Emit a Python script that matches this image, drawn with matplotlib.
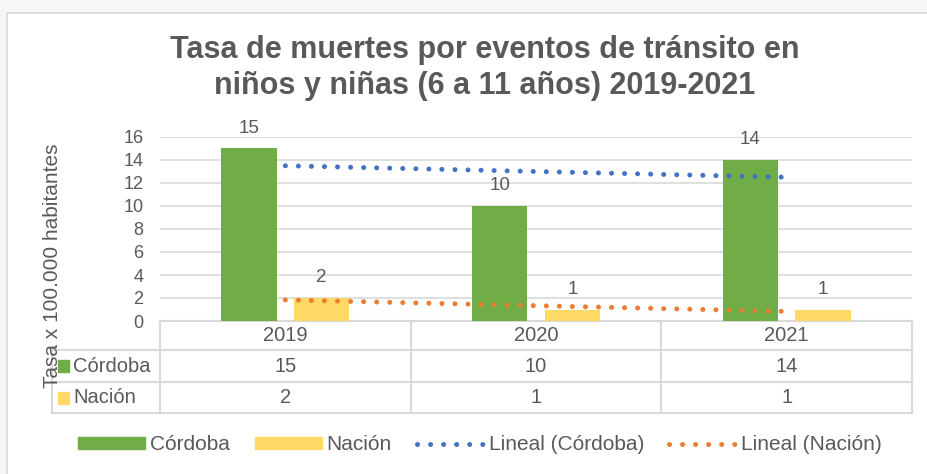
import matplotlib
matplotlib.use("Agg")
import matplotlib.pyplot as plt
import numpy as np
from matplotlib.patches import Patch, Rectangle
from matplotlib.lines import Line2D

plt.rcParams['font.family'] = ['Liberation Sans', 'DejaVu Sans']

# data
years = ['2019', '2020', '2021']
cordoba = [15, 10, 14]
nacion = [2, 1, 1]
series_names = ['Córdoba', 'Nación']

title = 'Tasa de muertes por eventos de tránsito en\nniños y niñas (6 a 11 años) 2019-2021'
ylabel = 'Tasa x 100.000 habitantes'

GREEN = '#70ad47'
YELLOW = '#ffd966'
BLUE = '#4472c4'
ORANGE = '#ed7d31'
TXT = '#595959'
GRID = '#d9d9d9'

W, H = 928, 474
fig = plt.figure(figsize=(W / 100, H / 100), dpi=100, facecolor='#f7f7f7')

# pixel overlay for frame, table and title
pix = fig.add_axes([0, 0, 1, 1], zorder=0)
pix.set_xlim(0, W)
pix.set_ylim(H, 0)
pix.axis('off')
pix.add_patch(Rectangle((7, 13), W, H, facecolor='white', edgecolor='#d9d9d9', lw=1.2))

# plot area
left, right, top, bottom = 160, 912, 137, 321
ax = fig.add_axes([left / W, 1 - bottom / H, (right - left) / W, (bottom - top) / H], zorder=2)
ax.patch.set_alpha(0)
x = np.arange(len(years))
bw, off = 0.22, 0.145
bars_c = ax.bar(x - off, cordoba, bw, color=GREEN, zorder=3)
bars_n = ax.bar(x + off, nacion, bw, color=YELLOW, zorder=3)

for bars, vals in [(bars_c, cordoba), (bars_n, nacion)]:
    for b, v in zip(bars, vals):
        ax.annotate(str(v), (b.get_x() + b.get_width() / 2, v), xytext=(0, 11.5),
                    textcoords='offset points', ha='center', va='baseline',
                    fontsize=13.5, color=TXT)

# linear trend lines
dots = (0, (0.01, 2.6))
for vals, col in [(cordoba, BLUE), (nacion, ORANGE)]:
    k, c = np.polyfit(x, vals, 1)
    ax.plot(x, k * x + c, color=col, lw=3.6, linestyle=dots, dash_capstyle='round', zorder=4)

ax.set_xlim(-0.5, len(years) - 0.5)
ax.set_ylim(0, 16)
ax.set_yticks(range(0, 17, 2))
ax.set_xticks([])
ax.tick_params(axis='y', length=0, pad=12, labelsize=13, labelcolor=TXT)
ax.grid(axis='y', color=GRID, lw=1.2, zorder=0)
for s in ax.spines.values():
    s.set_visible(False)

# data table under the axis
col_w = (right - left) / len(years)
rows = [bottom, 350, 382, 413]
tbl_left = 52
pix.plot([left, right], [rows[0], rows[0]], color=GRID, lw=1.5)
for yy in rows[1:]:
    pix.plot([tbl_left, right], [yy, yy], color=GRID, lw=1.5)
for i in range(len(years) + 1):
    xx = left + i * col_w
    pix.plot([xx, xx], [rows[0], rows[-1]], color=GRID, lw=1.5)
pix.plot([tbl_left, tbl_left], [rows[1], rows[-1]], color=GRID, lw=1.5)

for i, yr in enumerate(years):
    xc = left + (i + 0.5) * col_w
    pix.text(xc, (rows[0] + rows[1]) / 2, yr, ha='center', va='center', fontsize=14.5, color=TXT)
    pix.text(xc, (rows[1] + rows[2]) / 2, str(cordoba[i]), ha='center', va='center', fontsize=14.5, color=TXT)
    pix.text(xc, (rows[2] + rows[3]) / 2, str(nacion[i]), ha='center', va='center', fontsize=14.5, color=TXT)

for r, (name, col) in enumerate(zip(series_names, [GREEN, YELLOW])):
    yc = (rows[r + 1] + rows[r + 2]) / 2
    pix.add_patch(Rectangle((58, yc - 6), 11, 12, color=col))
    pix.text(73, yc, name, ha='left', va='center', fontsize=14.5, color=TXT)

# axis title, chart title
fig.text(53 / W, 1 - 266 / H, ylabel, rotation=90, ha='center', va='center', fontsize=15, color=TXT)
fig.text(485 / W, 1 - 68 / H, title, ha='center', va='center', fontsize=22, fontweight='bold',
         color=TXT, linespacing=1.22)

# legend
handles = [
    Patch(color=GREEN, label='Córdoba'),
    Patch(color=YELLOW, label='Nación'),
    Line2D([], [], color=BLUE, lw=3.6, linestyle=dots, dash_capstyle='round', label='Lineal (Córdoba)'),
    Line2D([], [], color=ORANGE, lw=3.6, linestyle=dots, dash_capstyle='round', label='Lineal (Nación)'),
]
leg = fig.legend(handles=handles, loc='center', bbox_to_anchor=(480 / W, 1 - 445 / H), ncol=4,
                 frameon=False, fontsize=15, handlelength=3.2, handletextpad=0.25,
                 columnspacing=1.2, labelcolor=TXT, handleheight=0.55)

fig.savefig('out.png', dpi=100, facecolor=fig.get_facecolor())
